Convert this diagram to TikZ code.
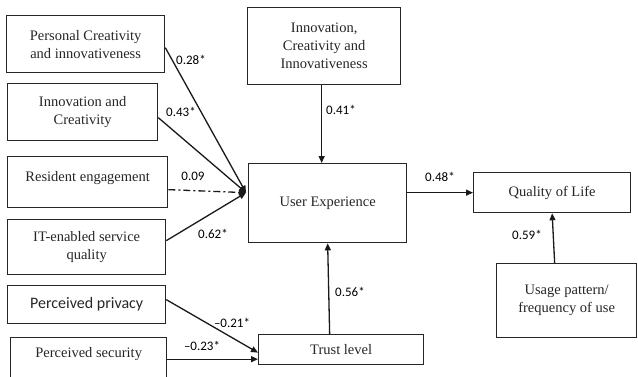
\documentclass[tikz,border=0pt]{standalone}
\usepackage{fontspec}
\setmainfont{Liberation Serif}
\newfontfamily\lblfont{Carlito}
\usetikzlibrary{arrows.meta}
\tikzset{
  box/.style={draw=black!85, line width=1.3pt, anchor=north west, align=center,
    inner sep=2pt, font=\fontsize{14.5}{18}\selectfont, text=black!85},
  arr/.style={draw=black!90, line width=1.3pt, -{Triangle[length=7pt,width=6pt]}},
  lbl/.style={font=\lblfont\fontsize{13}{14}\selectfont, text=black, inner sep=0pt}
}
\begin{document}
\begin{tikzpicture}[x=1pt,y=-1pt]
\useasboundingbox (0,0) rectangle (638,376);
% boxes
\node[box, minimum width=158pt, minimum height=57pt] (b1) at (6,15) {Personal Creativity\\and innovativeness};
\node[box, minimum width=150pt, minimum height=57pt] (b2) at (7,83) {Innovation and\\Creativity};
\node[box, minimum width=160pt, minimum height=51pt] (b3) at (7,156) {\raisebox{12pt}{Resident engagement}};
\node[box, minimum width=158pt, minimum height=55pt] (b4) at (7,219) {IT-enabled service\\quality};
\node[box, minimum width=158pt, minimum height=38pt, font=\lblfont\fontsize{16}{18}\selectfont] (b5) at (7,285) {Perceived privacy};
\node[box, minimum width=156pt, minimum height=43pt] (b6) at (10,337) {\raisebox{14pt}{Perceived security}};
\node[box, minimum width=153pt, minimum height=77pt] (top) at (247,7) {Innovation,\\Creativity and\\Innovativeness};
\node[box, minimum width=158pt, minimum height=79pt] (ue) at (248,163) {User Experience};
\node[box, minimum width=165pt, minimum height=30pt] (trust) at (258,334) {Trust level};
\node[box, minimum width=157pt, minimum height=40pt] (qol) at (473,172) {Quality of Life};
\node[box, minimum width=140pt, minimum height=74pt] (usage) at (496,263) {Usage pattern/\\frequency of use};
% connectors
\coordinate (conv) at ([xshift=-2pt,yshift=10.5pt]ue.west);
\draw[arr] ([yshift=-3.5pt]b1.east) -- (conv);
\draw[arr] ([yshift=-5.5pt]b2.east) -- (conv);
\draw[arr, dash pattern=on 7pt off 3pt on 2pt off 3pt] ([yshift=-7.5pt]b3.east) -- (conv);
\draw[arr] ([yshift=6.5pt]b4.east) -- (conv);
\draw[arr] ([xshift=-2.5pt]top.south) -- ([xshift=-2.5pt]top.south |- ue.north);
\draw[arr] ([xshift=-11.5pt]trust.north) -- (ue.south);
\draw[arr] (ue.east |- qol.west) -- (qol.west);
\draw[arr] ([xshift=-12pt]usage.north) -- (qol.south);
\draw[arr] ([yshift=5pt]b5.east) -- ([yshift=-3pt]trust.west);
\draw[arr] (b6.east) -- (b6.east -| trust.west);
% labels
\node[lbl] (l1) at (191,60) {0.28*};
\node[lbl] (l2) at (181,112) {0.43*};
\node[lbl] (l3) at (193,176) {0.09};
\node[lbl] (l4) at (213,234) {0.62*};
\node[lbl] (l5) at (341,110) {0.41*};
\node[lbl] (l6) at (350,292) {0.56*};
\node[lbl] (l7) at (440,177) {0.48*};
\node[lbl] (l8) at (527,235) {0.59*};
\node[lbl] (l9) at (232,323) {\textendash0.21*};
\node[lbl] (l10) at (202,346) {\textendash0.23*};
\end{tikzpicture}
\end{document}
